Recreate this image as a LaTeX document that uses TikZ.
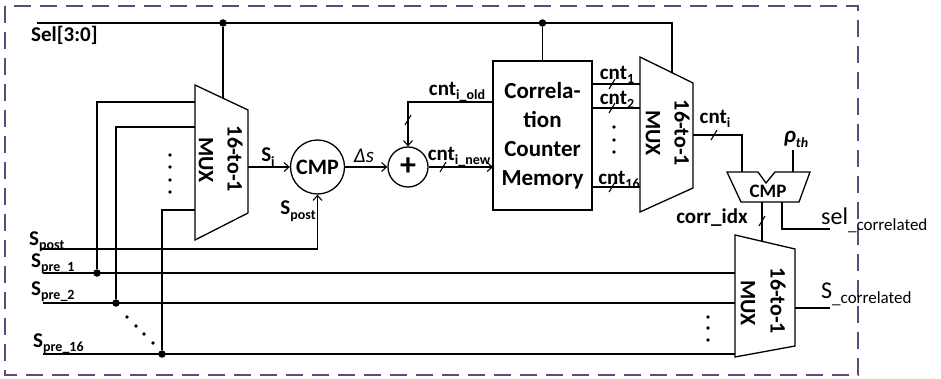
\documentclass[tikz,border=0pt]{standalone}
\usepackage{fontspec}
\setmainfont{Carlito}
\usetikzlibrary{arrows.meta}
\newcommand{\lsub}[1]{\raisebox{-0.45ex}{\fontsize{14}{14}\selectfont #1}}
\newcommand{\rsub}[1]{\raisebox{-0.45ex}{\fontsize{17}{17}\selectfont #1}}
\definecolor{framepurple}{HTML}{5E4B7E}
\begin{document}
\begin{tikzpicture}[x=1pt,y=-1pt,
  wire/.style={line width=1.3pt, line join=miter},
  arr/.style={wire,-{Straight Barb[length=5pt,width=9pt,line width=1.1pt]}},
  lbl/.style={font=\fontsize{21}{24}\selectfont\bfseries, inner sep=0pt},
  rlbl/.style={font=\fontsize{24}{28}\selectfont, inner sep=0pt},
  blk/.style={draw, line width=1.3pt, font=\fontsize{23}{29}\selectfont\bfseries, align=center, inner sep=0pt},
  muxtxt/.style={font=\fontsize{22}{24}\selectfont\bfseries, inner sep=0pt, rotate=-90},
  jdot/.style={circle, fill, inner sep=0pt, minimum size=7.5pt},
  sdot/.style={circle, fill, inner sep=0pt, minimum size=3.8pt},
  busmark/.style={line width=1.1pt},
  frame/.style={draw=framepurple, line width=2pt, dash pattern=on 17pt off 9pt}
]
\useasboundingbox (0,0) rectangle (941,379);
\draw[frame] (5,6) rectangle (858,375);

% ---- MUX shapes
\coordinate (mAtl) at (195,85);  \coordinate (mAtr) at (248,110);
\coordinate (mAbr) at (248,213); \coordinate (mAbl) at (195,240);
\draw[wire] (mAtl) -- (mAtr) -- (mAbr) -- (mAbl) -- cycle;
\node[muxtxt] (mAt1) at (235,159) {16-to-1};
\node[muxtxt] (mAt2) at (206,160) {MUX};

\coordinate (mBtl) at (640,57);  \coordinate (mBtr) at (693,83);
\coordinate (mBbr) at (693,188); \coordinate (mBbl) at (640,212);
\draw[wire] (mBtl) -- (mBtr) -- (mBbr) -- (mBbl) -- cycle;
\node[muxtxt] (mBt1) at (682,133) {16-to-1};
\node[muxtxt] (mBt2) at (653,133) {MUX};

\coordinate (mCtl) at (735,235);  \coordinate (mCtr) at (795,249);
\coordinate (mCbr) at (795,346);  \coordinate (mCbl) at (735,357);
\draw[wire] (mCtl) -- (mCtr) -- (mCbr) -- (mCbl) -- cycle;
\node[muxtxt] (mCt1) at (778,301) {16-to-1};
\node[muxtxt] (mCt2) at (748,303) {MUX};

% ---- blocks
\node[circle, draw, line width=1.3pt, minimum size=54pt, lbl, font=\fontsize{22}{24}\selectfont\bfseries] (cmp) at (317.5,167) {CMP};
\node[circle, draw, line width=1.3pt, minimum size=40pt, inner sep=0pt] (add) at (408,167) {\fontsize{32}{32}\selectfont\bfseries +};
\node[blk, minimum width=99pt, minimum height=149pt] (mem) at (542.5,135.5) {Correla-\\tion\\Counter\\Memory};

% ---- small CMP
\coordinate (c1) at (727,172); \coordinate (c2) at (758,172); \coordinate (c3) at (766,183);
\coordinate (c4) at (775,172); \coordinate (c5) at (810,172); \coordinate (c6) at (799,202);
\coordinate (c7) at (741,202);
\draw[wire] (c1) -- (c2) -- (c3) -- (c4) -- (c5) -- (c6) -- (c7) -- cycle;
\node[lbl, font=\fontsize{19}{22}\selectfont\bfseries] (cmp2) at (768,191) {CMP};

% ---- Sel bus
\coordinate (selL) at (37,23);
\node[jdot] (j1) at (223,23) {};
\node[jdot] (j2) at (542.5,23) {};
\coordinate (selR) at (672,23);
\coordinate (mAsel) at (223,98.5);
\coordinate (mBsel) at (672,72.7);
\draw[wire] (selL) -- (selR) -- (mBsel);
\draw[wire] (j1) -- (mAsel);
\draw[wire] (j2) -- (mem.north);
\node[lbl, anchor=west] (sellbl) at (31,35) {Sel[3:0]};

% ---- left input lines
\coordinate (postL) at (40,249);
\coordinate (pre1L) at (43,273);
\coordinate (pre2L) at (43,303);
\coordinate (pre16L) at (43,354);
\coordinate (pre1R) at (735,273);
\coordinate (pre2R) at (735,303);
\coordinate (pre16R) at (735,354);
\node[jdot] (jp1) at (97,273) {};
\node[jdot] (jp2) at (116,303) {};
\node[jdot] (jp16) at (162,354) {};
\coordinate (mAin1) at (195,102);
\coordinate (mAin2) at (195,127);
\coordinate (mAin16) at (195,210);
\draw[wire] (pre1L) -- (pre1R);
\draw[wire] (pre2L) -- (pre2R);
\draw[wire] (pre16L) -- (pre16R);
\draw[wire] (mAin1) -| (jp1);
\draw[wire] (mAin2) -| (jp2);
\draw[wire] (mAin16) -| (jp16);
\draw[arr] (postL) -| (cmp.south);

\node[lbl, anchor=base west] (lpost) at (29,245) {S\lsub{post}};
\node[lbl, anchor=base west] (lpre1) at (31,267) {S\lsub{pre\_1}};
\node[lbl, anchor=base west] (lpre2) at (31,295) {S\lsub{pre\_2}};
\node[lbl, anchor=base west] (lpre16) at (33,347) {S\lsub{pre\_16}};

% dots
\foreach \yy in {155,167,180,192} \node[sdot] at (170,\yy) {};
\foreach \xx/\yy in {127/317,136/326,144/334,153/343} \node[sdot] at (\xx,\yy) {};
\foreach \yy in {127,140,152} \node[sdot] at (614,\yy) {};
\foreach \yy in {317,328,340} \node[sdot] at (708,\yy) {};

% ---- datapath
\coordinate (mAout) at (248,167);
\draw[arr] (mAout) -- (cmp.west);
\node[lbl] (lsi) at (268,157) {S\lsub{i}};
\node[lbl] (lspost2) at (298,211) {S\lsub{post}};
\draw[arr] (cmp.east) -- (add.west);
\node[lbl, font=\fontsize{21}{24}\selectfont\itshape] (lds) at (364,156) {Δs};
\coordinate (memin) at (493,167);
\draw[arr] (add.east) -- (memin);
\coordinate (s1) at (443,167);
\draw[busmark] ([shift={(-3,5)}]s1) -- ([shift={(3,-5)}]s1);
\node[lbl] (lnew) at (459,157) {cnt\lsub{i\_new}};
\coordinate (memold) at (493,102);
\draw[arr] (memold) -| (add.north);
\coordinate (s2) at (408,120);
\draw[busmark] ([shift={(-3,5)}]s2) -- ([shift={(3,-5)}]s2);
\node[lbl] (lold) at (457,92) {cnt\lsub{i\_old}};

% memory outputs
\coordinate (mo1) at (592,84);  \coordinate (mi1) at (640,84);
\coordinate (mo2) at (592,108); \coordinate (mi2) at (640,108);
\coordinate (mo16) at (592,187); \coordinate (mi16) at (640,187);
\draw[wire] (mo1) -- (mi1);
\draw[wire] (mo2) -- (mi2);
\draw[wire] (mo16) -- (mi16);
\foreach \yy in {84,108,187} \draw[busmark] (609,\yy+5) -- (615,\yy-5);
\node[lbl] (lc1) at (617,75) {cnt\lsub{1}};
\node[lbl] (lc2) at (617,100) {cnt\lsub{2}};
\node[lbl] (lc16) at (619,180) {cnt\lsub{16}};

% cnt_i to CMP
\coordinate (mBout) at (693,135);
\coordinate (cin1) at (742,172);
\draw[wire] (mBout) -| (cin1);
\coordinate (s3) at (714,135);
\draw[busmark] ([shift={(-3,5)}]s3) -- ([shift={(3,-5)}]s3);
\node[lbl] (lci) at (715,119) {cnt\lsub{i}};
\coordinate (rhoT) at (793,150);
\coordinate (cin2) at (793,172);
\draw[wire] (rhoT) -- (cin2);
\node[lbl, font=\fontsize{23}{24}\selectfont\bfseries\itshape] (lrho) at (796,139) {ρ\lsub{th}};

% CMP outputs
\coordinate (cout1) at (762,202);
\coordinate (mCsel) at (762,241.5);
\draw[wire] (cout1) -- (mCsel);
\coordinate (s4) at (762,221);
\draw[busmark] ([shift={(-3,5)}]s4) -- ([shift={(3,-5)}]s4);
\node[lbl] (lidx) at (712,218) {corr\_idx};
\coordinate (cout2) at (782,202);
\coordinate (selout) at (830,229);
\draw[wire] (cout2) |- (selout);
\node[rlbl, anchor=base west] (lsel) at (821,225) {sel\rsub{\_correlated}};

% S_correlated
\coordinate (mCout) at (795,308);
\coordinate (scorr) at (830,308);
\draw[wire] (mCout) -- (scorr);
\node[rlbl, anchor=base west] (lscorr) at (821,298) {S\rsub{\_correlated}};
\end{tikzpicture}
\end{document}
